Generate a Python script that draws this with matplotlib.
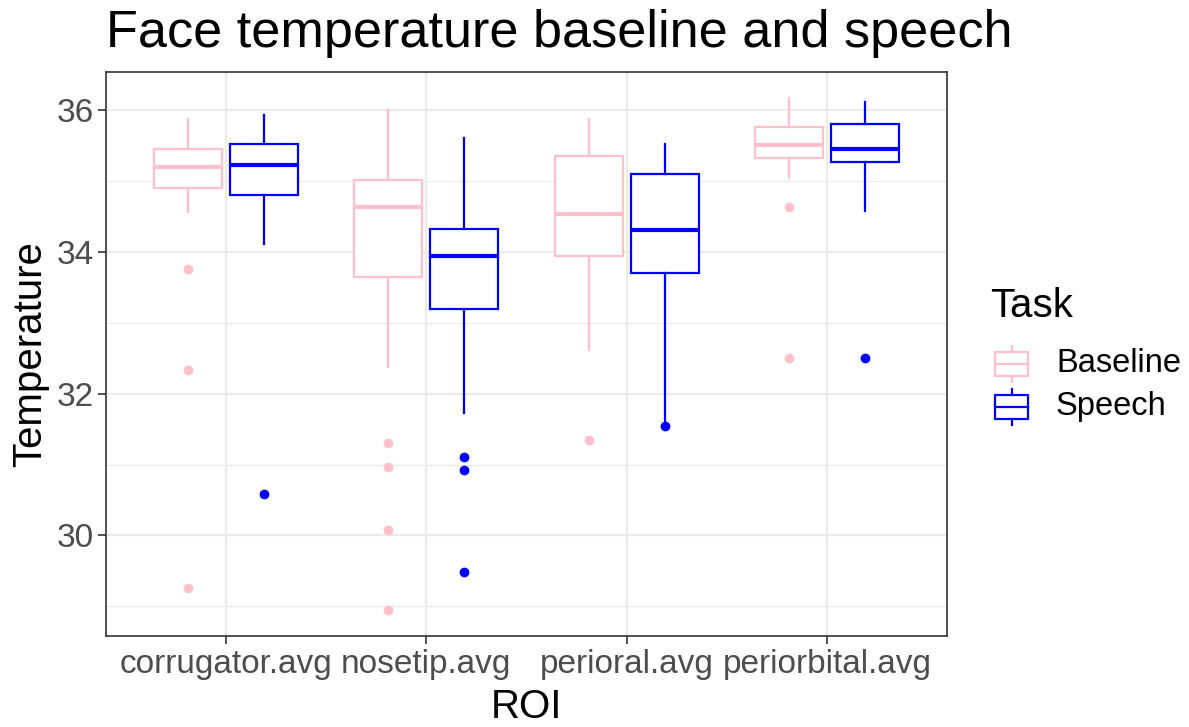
import matplotlib
matplotlib.use("Agg")
import matplotlib.pyplot as plt
from matplotlib.patches import Rectangle
from matplotlib.lines import Line2D

plt.rcParams['font.family'] = ['Liberation Sans', 'DejaVu Sans']

# ---- data ----
categories = ["corrugator.avg", "nosetip.avg", "perioral.avg", "periorbital.avg"]
tasks = ["Baseline", "Speech"]
task_colors = ["#FFC0CB", "#0000FF"]

# per task: box statistics per category
baseline_whislo = [34.56, 32.37, 32.62, 35.04]
baseline_q1     = [34.90, 33.64, 33.95, 35.32]
baseline_med    = [35.20, 34.63, 34.53, 35.51]
baseline_q3     = [35.46, 35.01, 35.35, 35.76]
baseline_whishi = [35.88, 36.01, 35.88, 36.18]
baseline_fliers = [[33.76, 32.33, 29.26], [31.31, 30.97, 30.08, 28.94], [31.35], [34.64, 32.50]]

speech_whislo = [34.11, 31.73, 31.60, 34.58]
speech_q1     = [34.80, 33.19, 33.71, 35.27]
speech_med    = [35.23, 33.94, 34.31, 35.46]
speech_q3     = [35.53, 34.33, 35.10, 35.80]
speech_whishi = [35.93, 35.61, 35.52, 36.11]
speech_fliers = [[30.58], [31.11, 30.92, 29.48], [31.55], [32.50]]

yticks = [30, 32, 34, 36]
minor_yticks = [29, 31, 33, 35]

W, H = 1189, 727
fig = plt.figure(figsize=(W / 100, H / 100), dpi=100)
L, R, B, T = 106, 947, 636, 72
ax = fig.add_axes([L / W, 1 - B / H, (R - L) / W, (B - T) / H])

series = [
    (baseline_whislo, baseline_q1, baseline_med, baseline_q3, baseline_whishi, baseline_fliers),
    (speech_whislo, speech_q1, speech_med, speech_q3, speech_whishi, speech_fliers),
]
offsets = [-0.19, 0.19]
for (wl, q1, med, q3, wh, fl), off, col in zip(series, offsets, task_colors):
    stats = []
    for i in range(len(categories)):
        stats.append(dict(whislo=wl[i], q1=q1[i], med=med[i], q3=q3[i], whishi=wh[i], fliers=fl[i]))
    pos = [i + 1 + off for i in range(len(categories))]
    ax.bxp(stats, positions=pos, widths=0.34, showcaps=False, patch_artist=True,
           boxprops=dict(facecolor="white", edgecolor=col, linewidth=1.6),
           whiskerprops=dict(color=col, linewidth=1.6),
           medianprops=dict(color=col, linewidth=3.0, solid_capstyle='butt'),
           flierprops=dict(marker='o', markerfacecolor=col, markeredgecolor=col, markersize=6),
           zorder=3)

ax.set_xlim(0.4, 4.6)
ax.set_ylim(28.58, 36.54)
ax.set_xticks(range(1, len(categories) + 1))
ax.set_xticklabels(categories)
ax.set_yticks(yticks)
ax.set_yticklabels([str(t) for t in yticks])
ax.set_yticks(minor_yticks, minor=True)
ax.tick_params(axis='y', which='minor', length=0)
ax.tick_params(axis='both', which='major', length=5.5, width=1.2, color='#333333',
               labelsize=24, labelcolor='#4D4D4D', pad=3.5)
ax.grid(True, which='major', color='#EBEBEB', linewidth=1.6, zorder=0)
ax.grid(True, which='minor', axis='y', color='#EBEBEB', linewidth=0.9, zorder=0)
ax.set_axisbelow(True)
for s in ax.spines.values():
    s.set_color('#333333')
    s.set_linewidth(1.2)

fig.text((L + R) / 2 / W, 1 - 718 / H, "ROI", fontsize=29, ha='center', va='baseline')
fig.text(41.5 / W, 1 - 354 / H, "Temperature", fontsize=29, rotation=90,
         rotation_mode='anchor', ha='center', va='baseline')

fig.text(L / W, 1 - 47 / H, "Face temperature baseline and speech", fontsize=37.6,
         ha='left', va='baseline')

# ---- legend (drawn manually) ----
lax = fig.add_axes([0, 0, 1, 1], facecolor='none')
lax.set_xlim(0, W)
lax.set_ylim(H, 0)
lax.axis('off')
lax.text(990, 317, "Task", fontsize=29, ha='left', va='baseline')
key_y = [364, 407]
for ky, col, lab in zip(key_y, task_colors, tasks):
    lax.add_patch(Rectangle((995, ky - 12), 33, 24, fill=False, edgecolor=col, linewidth=1.6))
    lax.add_line(Line2D([995, 1028], [ky, ky], color=col, linewidth=1.6))
    lax.add_line(Line2D([1011.5, 1011.5], [ky - 18, ky - 12], color=col, linewidth=1.6))
    lax.add_line(Line2D([1011.5, 1011.5], [ky + 12, ky + 18], color=col, linewidth=1.6))
    lax.text(1056, ky, lab, fontsize=23.5, ha='left', va='center')

fig.savefig("out.png", dpi=100)
